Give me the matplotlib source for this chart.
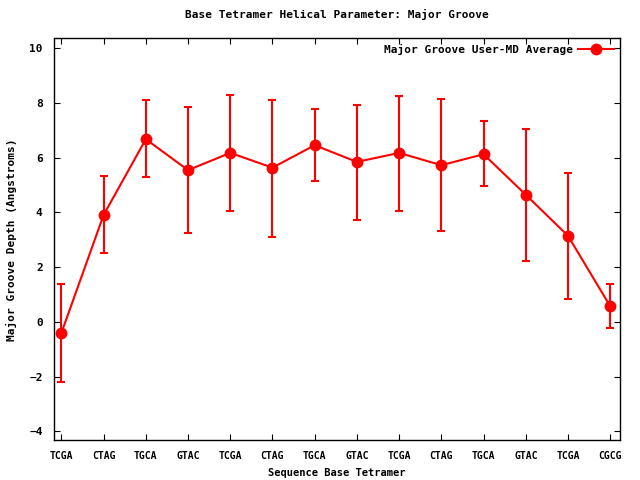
import numpy as np
import matplotlib
matplotlib.use('Agg')
import matplotlib.pyplot as plt
from matplotlib.lines import Line2D

tetramers = ['TCGA', 'CTAG', 'TGCA', 'GTAC', 'TCGA', 'CTAG', 'TGCA',
             'GTAC', 'TCGA', 'CTAG', 'TGCA', 'GTAC', 'TCGA', 'CGCG']
groove = [-0.41, 3.90, 6.67, 5.54, 6.17, 5.63, 6.45,
          5.84, 6.17, 5.72, 6.12, 4.64, 3.14, 0.57]
err_lo = [-2.21, 2.52, 5.30, 3.25, 4.04, 3.09, 5.15,
          3.71, 4.04, 3.31, 4.97, 2.23, 0.84, -0.22]
err_hi = [1.38, 5.33, 8.10, 7.85, 8.29, 8.10, 7.77,
          7.91, 8.25, 8.13, 7.34, 7.04, 5.44, 1.38]

plt.rcParams['font.family'] = 'DejaVu Sans Mono'
plt.rcParams['font.weight'] = 'bold'
plt.rcParams['axes.titleweight'] = 'bold'
plt.rcParams['axes.labelweight'] = 'bold'
plt.rcParams['font.size'] = 8

x = np.arange(len(tetramers))
y = np.array(groove)
yerr = [y - np.array(err_lo), np.array(err_hi) - y]

fig = plt.figure(figsize=(6.4, 4.8), dpi=100)
ax = fig.add_axes([0.084, 0.083, 0.884, 0.837])
ax.errorbar(x, y, yerr=yerr, color='#ff0000', lw=1.5, marker='o', ms=7.5,
            elinewidth=1.5, capsize=3, capthick=1.5)

ax.set_xlim(-0.18, 13.22)
ax.set_ylim(-4.32, 10.35)
ax.set_xticks(x)
ax.set_xticklabels(tetramers, fontsize=7)
ax.set_yticks(range(-4, 11, 2))
ax.tick_params(direction='in', top=True, right=True, length=4, width=0.8, pad=8)
for s in ax.spines.values():
    s.set_linewidth(1)

ax.set_xlabel('Sequence Base Tetramer', fontsize=7.5, labelpad=5)
ax.set_ylabel('Major Groove Depth (Angstroms)', labelpad=9)
ax.set_title('Base Tetramer Helical Parameter: Major Groove', fontsize=8, pad=15)

handle = Line2D([], [], color='#ff0000', lw=1.5, marker='o', ms=7.5)
ax.legend([handle], ['Major Groove User-MD Average'], loc='upper right',
          frameon=False, markerfirst=False, handlelength=3.2,
          borderaxespad=0.2, handletextpad=0.5, borderpad=0.3)

plt.savefig('out.png')
